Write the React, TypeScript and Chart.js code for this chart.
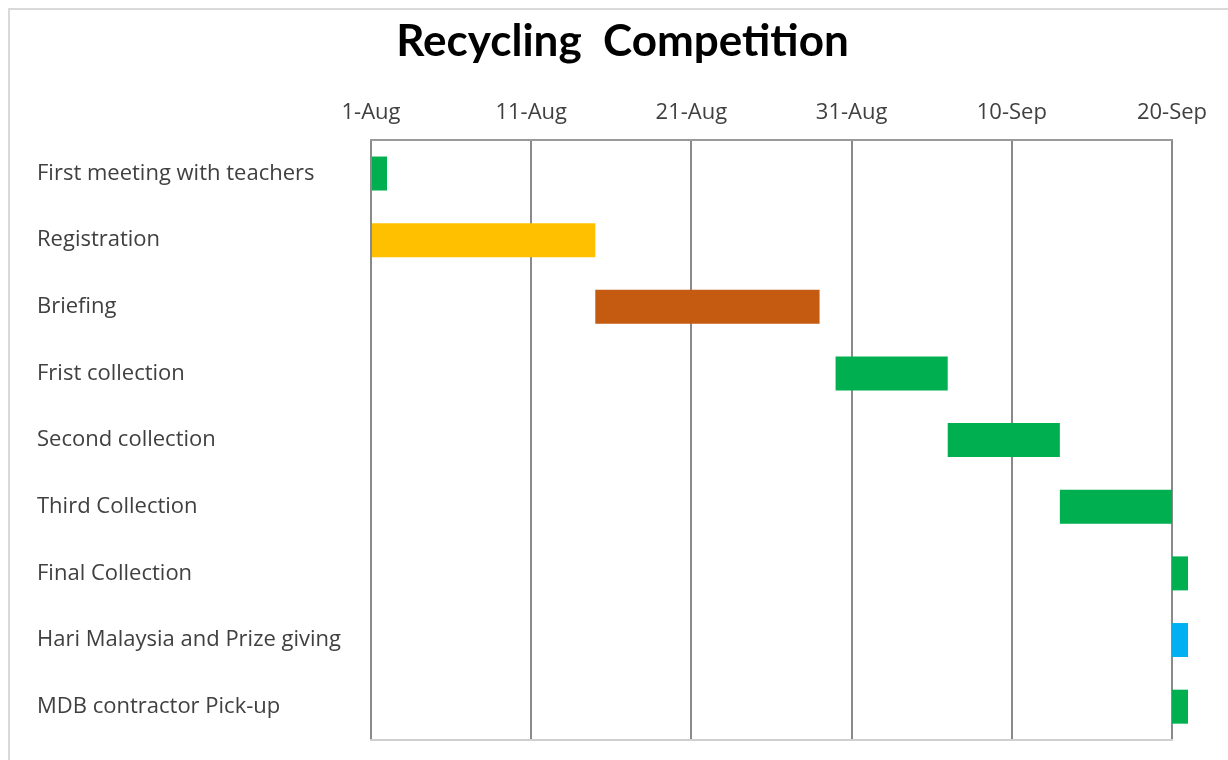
import React, { useEffect, useRef } from "react";
import { Chart, registerables } from "chart.js";

Chart.register(...registerables);

const categories = [
  "First meeting with teachers",
  "Registration",
  "Briefing",
  "Frist collection",
  "Second collection",
  "Third Collection",
  "Final Collection",
  "Hari Malaysia and Prize giving",
  "MDB contractor Pick-up",
];
// days since 1-Aug
const startDays = [0, 0, 14, 29, 36, 43, 50, 50, 50];
const endDays = [1, 14, 28, 36, 43, 50, 51, 51, 51];
const barColors = [
  "#00b050",
  "#ffc000",
  "#c55a11",
  "#00b050",
  "#00b050",
  "#00b050",
  "#00b050",
  "#00b0f0",
  "#00b050",
];
const tickLabels = ["1-Aug", "11-Aug", "21-Aug", "31-Aug", "10-Sep", "20-Sep"];

const frame = {
  id: "frame",
  beforeDraw(chart: any) {
    const ctx = chart.ctx;
    ctx.save();
    ctx.strokeStyle = "#d9d9d9";
    ctx.lineWidth = 2;
    ctx.beginPath();
    ctx.moveTo(9, chart.height);
    ctx.lineTo(9, 9);
    ctx.lineTo(chart.width, 9);
    ctx.stroke();
    ctx.restore();
  },
};

export default function App() {
  const ref = useRef<HTMLCanvasElement>(null);
  useEffect(() => {
    if (!ref.current) return;
    Chart.defaults.font.family = "'Open Sans'";
    const chart = new Chart(ref.current, {
      type: "bar",
      data: {
        labels: categories,
        datasets: [
          {
            data: startDays.map((s, i) => [s, endDays[i]]) as any,
            backgroundColor: barColors,
            borderWidth: 0,
            borderSkipped: false,
            barPercentage: 0.51,
            categoryPercentage: 1,
            clip: false as any,
          },
        ],
      },
      options: {
        indexAxis: "y",
        animation: false,
        responsive: true,
        maintainAspectRatio: false,
        layout: { padding: { left: 37, right: 20, top: 0, bottom: 20 } },
        plugins: {
          legend: { display: false },
          tooltip: { enabled: false },
          title: {
            display: true,
            text: "Recycling  Competition",
            color: "#000",
            font: { size: 44, weight: "bold", family: "Lato" },
            padding: { top: 15, bottom: 18 },
          },
        },
        scales: {
          x: {
            type: "linear",
            position: "top",
            min: 0,
            max: 50,
            ticks: {
              stepSize: 10,
              color: "#404040",
              font: { size: 22 },
              padding: 14,
              callback: (v: any) => tickLabels[Math.round(Number(v) / 10)] ?? "",
            },
            grid: { color: "#8a8a8a", lineWidth: 2, drawTicks: false },
            border: { color: "#9a9a9a", width: 2 },
            afterFit: (s: any) => {
              s.paddingLeft = 0;
              s.paddingRight = 56;
            },
          },
          xb: {
            type: "linear",
            position: "bottom",
            min: 0,
            max: 50,
            ticks: { display: false },
            grid: { display: false },
            border: { color: "#d0d0d0", width: 2 },
            afterFit: (s: any) => {
              s.paddingLeft = 0;
              s.paddingRight = 56;
              s.height = 0;
            },
          },
          y: {
            type: "category",
            offset: true,
            grid: { display: false },
            border: { display: false },
            ticks: {
              crossAlign: "far",
              color: "#404040",
              font: { size: 22 },
            },
            afterFit: (s: any) => {
              s.width = 334;
            },
          },
        },
      },
      plugins: [frame],
    });
    return () => chart.destroy();
  }, []);
  return (
    <div style={{ position: "absolute", left: 0, top: 0, width: 1228, height: 760 }}>
      <canvas ref={ref} />
    </div>
  );
}
